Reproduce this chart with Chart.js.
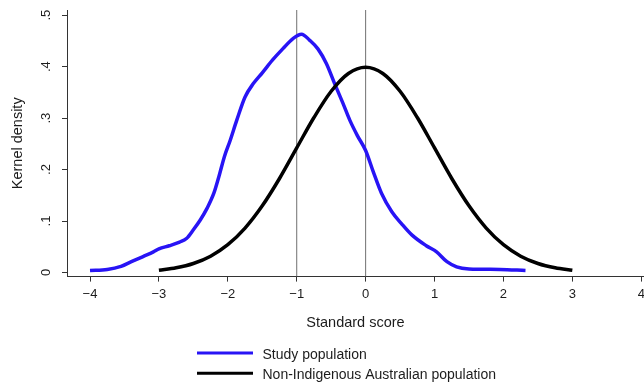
<!DOCTYPE html>
<html>
<head>
<meta charset="utf-8">
<title>Kernel density of standard scores</title>
<script src="https://cdn.jsdelivr.net/npm/chart.js@4/dist/chart.umd.min.js"></script>
<style>
  html, body { margin: 0; padding: 0; background: #fff; }
  #wrap { width: 644px; height: 386px; }
</style>
</head>
<body>
<div id="wrap"><canvas id="densityChart" width="644" height="386"></canvas></div>
<script>
// Study population: kernel density estimate of standard scores
const studyX = [-4.0, -3.75, -3.55, -3.4, -3.23, -3.08, -3.0, -2.85, -2.7, -2.6,
                -2.5, -2.4, -2.3, -2.2, -2.13, -2.05, -1.97, -1.87, -1.75, -1.63,
                -1.5, -1.35, -1.2, -1.05, -0.93, -0.81, -0.69, -0.57, -0.45, -0.33,
                -0.23, -0.12, 0.0, 0.11, 0.23, 0.38, 0.52, 0.67, 0.88, 1.03,
                1.18, 1.32, 1.5, 1.95, 2.32];
const studyY = [0.004, 0.006, 0.012, 0.021, 0.031, 0.040, 0.046, 0.052, 0.059, 0.066,
                0.083, 0.102, 0.125, 0.155, 0.186, 0.225, 0.255, 0.296, 0.341, 0.367,
                0.388, 0.413, 0.435, 0.455, 0.463, 0.451, 0.434, 0.406, 0.367, 0.329,
                0.296, 0.266, 0.237, 0.196, 0.154, 0.118, 0.095, 0.073, 0.052, 0.040,
                0.021, 0.011, 0.007, 0.006, 0.004];

// Non-Indigenous Australian population (reference curve)
const refX = [-3.0, -2.75, -2.5, -2.25, -2.0, -1.75, -1.5, -1.25, -1.0, -0.75, -0.5, -0.25,
              0.0, 0.25, 0.5, 0.75, 1.0, 1.25, 1.5, 1.75, 2.0, 2.25, 2.5, 2.75, 3.0];
const refY = [0.0044, 0.0091, 0.0175, 0.0317, 0.0540, 0.0863, 0.1295, 0.1826, 0.2420, 0.3011, 0.3521, 0.3867,
              0.3989, 0.3867, 0.3521, 0.3011, 0.2420, 0.1826, 0.1295, 0.0863, 0.0540, 0.0317, 0.0175, 0.0091, 0.0044];

const seriesLabels = ['Study population', 'Non-Indigenous Australian population'];
const seriesColors = ['#2814f5', '#000000'];

// vertical reference lines
const markerLines = [-1, 0];

const yTickValues = [0, 0.1, 0.2, 0.3, 0.4, 0.5];

const X_MIN = -4.334, X_MAX = 4.04;
const Y_MIN = -0.008, Y_MAX = 0.51;

const FONT = "'Liberation Sans', Arial, sans-serif";
const INK = '#1c1c1c';
const AXIS = '#333333';

function toPoints(xs, ys) {
    return xs.map((x, i) => ({ x: x, y: ys[i] }));
}

function yLabel(v) {
    if (Math.abs(v) < 1e-9) return '0';
    return v.toFixed(1).replace(/^0/, '');
}

function xLabel(v) {
    return v < 0 ? '\u2212' + Math.abs(v) : String(v);
}

const datasets = [
    {
        label: seriesLabels[0],
        data: toPoints(studyX, studyY),
        borderColor: seriesColors[0],
        borderWidth: 3.5,
        pointRadius: 0,
        cubicInterpolationMode: 'monotone',
        order: 1
    },
    {
        label: seriesLabels[1],
        data: toPoints(refX, refY),
        borderColor: seriesColors[1],
        borderWidth: 3.5,
        pointRadius: 0,
        cubicInterpolationMode: 'monotone',
        order: 0
    }
];

markerLines.forEach(v => {
    datasets.push({
        label: '',
        data: [{ x: v, y: Y_MIN }, { x: v, y: Y_MAX }],
        borderColor: '#707070',
        borderWidth: 1,
        pointRadius: 0,
        order: 2
    });
});

// y tick labels (rotated) and the stacked legend underneath
const decorPlugin = {
    id: 'decor',
    afterDraw(chart) {
        const ctx = chart.ctx;
        const yScale = chart.scales.y;

        ctx.save();
        ctx.fillStyle = INK;
        ctx.font = '13px ' + FONT;
        ctx.textAlign = 'center';
        ctx.textBaseline = 'middle';
        yTickValues.forEach(v => {
            const py = yScale.getPixelForValue(v);
            ctx.save();
            ctx.translate(46.5, py);
            ctx.rotate(-Math.PI / 2);
            ctx.fillText(yLabel(v), 0, 0);
            ctx.restore();
        });

        ctx.font = '14px ' + FONT;
        ctx.textAlign = 'left';
        ctx.textBaseline = 'alphabetic';
        const rows = [353, 373.3];
        seriesLabels.forEach((label, i) => {
            const y = rows[i];
            ctx.strokeStyle = seriesColors[i];
            ctx.lineWidth = 3;
            ctx.beginPath();
            ctx.moveTo(197, y);
            ctx.lineTo(253, y);
            ctx.stroke();
            ctx.fillText(label, 262.5, y + 6);
        });
        ctx.restore();
    }
};

new Chart(document.getElementById('densityChart'), {
    type: 'line',
    data: { datasets: datasets },
    options: {
        responsive: false,
        animation: false,
        events: [],
        layout: { padding: { top: 10, right: 0, bottom: 0, left: 0 } },
        plugins: {
            legend: { display: false },
            tooltip: { enabled: false }
        },
        scales: {
            x: {
                type: 'linear',
                min: X_MIN,
                max: X_MAX,
                grid: { drawOnChartArea: false, drawTicks: true, tickLength: 5, color: AXIS },
                border: { display: true, color: AXIS, width: 1 },
                ticks: {
                    stepSize: 1,
                    includeBounds: false,
                    autoSkip: false,
                    maxRotation: 0,
                    padding: 5,
                    color: INK,
                    font: { family: FONT, size: 13 },
                    callback: v => xLabel(v)
                },
                title: {
                    display: true,
                    text: 'Standard score',
                    color: INK,
                    font: { family: FONT, size: 14.5 },
                    padding: { top: 0, bottom: 54.6 }
                },
                afterFit(scale) {
                    scale.height = 386 - 276.6;
                    scale.paddingLeft = 0;
                    scale.paddingRight = 0;
                }
            },
            y: {
                min: Y_MIN,
                max: Y_MAX,
                grid: { drawOnChartArea: false, drawTicks: true, tickLength: 5, color: AXIS },
                border: { display: true, color: AXIS, width: 1 },
                ticks: {
                    stepSize: 0.1,
                    includeBounds: false,
                    display: false
                },
                title: {
                    display: true,
                    text: 'Kernel density',
                    color: INK,
                    font: { family: FONT, size: 14.5 },
                    padding: { top: 8.8, bottom: 0 }
                },
                afterFit(scale) {
                    scale.width = 67;
                    scale.paddingTop = 0;
                    scale.paddingBottom = 0;
                }
            }
        }
    },
    plugins: [decorPlugin]
});
</script>
</body>
</html>
